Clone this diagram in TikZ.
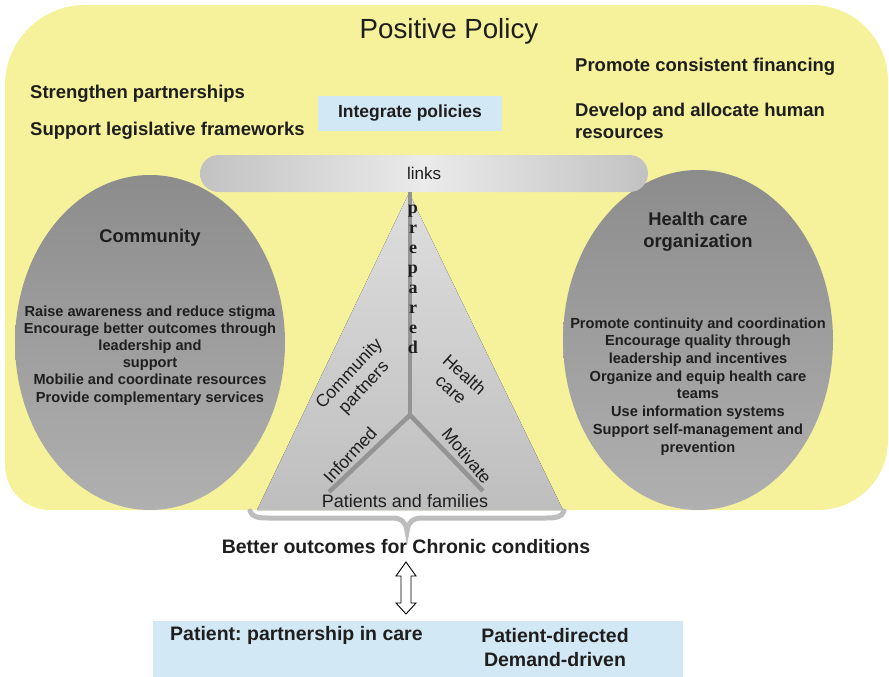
\documentclass[tikz,border=0pt]{standalone}
\usepackage{fontspec}
\setmainfont{Liberation Sans}
\newfontfamily\serifbf{Liberation Serif}
\usetikzlibrary{shapes.geometric}
\definecolor{polyellow}{HTML}{F6F29C}
\definecolor{lightblue}{HTML}{D3E8F5}
\definecolor{ellTop}{HTML}{8C8C8C}
\definecolor{ellBot}{HTML}{B0B0B0}
\definecolor{triTop}{HTML}{DEDEDE}
\definecolor{triBot}{HTML}{BEBEBE}
\definecolor{linkgray}{HTML}{949494}
\definecolor{bracegray}{HTML}{BDBDBD}
\definecolor{txt}{HTML}{1E1E1E}
\frenchspacing
\begin{document}
\begin{tikzpicture}[x=1pt,y=-1pt,
  every node/.style={inner sep=0pt, text=txt},
  hdr/.style={font=\fontsize{18.5}{22}\selectfont\bfseries},
  ttl/.style={font=\fontsize{18.4}{22}\selectfont\bfseries, align=center},
  bodyc/.style={font=\fontsize{14.6}{17.2}\selectfont\bfseries, align=center},
  bodyh/.style={font=\fontsize{14.6}{17.7}\selectfont\bfseries, align=center},
  reg/.style={font=\fontsize{17.5}{20}\selectfont, align=center},
  big/.style={font=\fontsize{19.5}{24}\selectfont\bfseries},
  branch/.style={draw=linkgray, line width=4.5pt}
]
\useasboundingbox (0,0) rectangle (889,677);

% yellow policy region
\fill[polyellow] (5,465) -- (5,85) .. controls (5,41) and (41,5) .. (85,5)
  -- (812,5) .. controls (854,5) and (888,39) .. (888,81)
  -- (888,440) .. controls (888,479) and (857,510) .. (818,510)
  -- (50,510) .. controls (25,510) and (5,490) .. (5,465) -- cycle;

\node (pp) [font=\fontsize{27.7}{32}\selectfont, anchor=base] at (449,39) {Positive Policy};
\node (sp) [hdr, anchor=base west] at (30,99) {Strengthen partnerships};
\node (sl) [hdr, anchor=base west] at (30,135) {Support legislative frameworks};
\node (pc) [hdr, anchor=base west] at (575,72) {Promote consistent financing};
\node (dh) [hdr, anchor=north west, align=left] at (575,102.8) {Develop and allocate human\\resources};
\node (ip) [fill=lightblue, minimum width=184pt, minimum height=35pt,
  font=\fontsize{17.5}{20}\selectfont\bfseries] at (410,113) {Integrate policies};

% ellipses
\node (comm) [ellipse, minimum width=270pt, minimum height=335pt,
  top color=ellTop, bottom color=ellBot] at (150,342.5) {};
\node (hco) [ellipse, minimum width=270pt, minimum height=340pt,
  top color=ellTop, bottom color=ellBot] at (698,340) {};

\node (commt) [ttl, anchor=base] at (150,242) {Community};
\node (commb) [bodyc] at (150,355.3) {Raise awareness and reduce stigma\\Encourage better outcomes through\\leadership and\\support\\Mobilie and coordinate resources\\Provide complementary services};
\node (hcot) [ttl] at (698,231.3) {Health care\\organization};
\node (hcob) [bodyh] at (698,386.3) {Promote continuity and coordination\\Encourage quality through\\leadership and incentives\\Organize and equip health care\\teams\\Use information systems\\Support self-management and\\prevention};

% triangle
\fill[top color=triTop, bottom color=triBot] (409,193) -- (563,510) -- (257,510) -- cycle;

% links pill
\node (links) [minimum width=448pt, minimum height=37pt, rounded corners=18.5pt,
  left color=black!24, right color=black!24, middle color=black!8,
  font=\fontsize{17}{20}\selectfont] at (424,173.5) {links};

% connectors inside triangle
\coordinate (J) at (410,415);
\coordinate (L) at (329,492);
\coordinate (R) at (483,491);
\draw[branch] (J |- links.south) -- (J);
\draw[branch] (L) -- (J) -- (R);

\node (prep) [font=\fontsize{18}{20}\selectfont\serifbf\bfseries, align=center, anchor=north] at (413,204.7)
  {p\\r\\e\\p\\a\\r\\e\\d};

\node (cp) [reg, rotate=47] at (357,381) {Community\\partners};
\node (hc) [reg, rotate=-42] at (458,382) {Health\\care};
\node (inf) [reg, rotate=47] at (350,455) {Informed};
\node (mot) [reg, rotate=-50] at (467,456) {Motivate};
\node (pf) [font=\fontsize{18}{20}\selectfont, anchor=base] at (405,507) {Patients and families};

% brace
\draw[bracegray, line width=5pt, line cap=round]
  (250,511) .. controls (252,517) and (258,518) .. (268,518) -- (392,518)
  .. controls (401,518) and (406,522) .. (407,531)
  .. controls (408,522) and (413,518) .. (422,518) -- (546,518)
  .. controls (556,518) and (562,517) .. (564,511);

\node (bo) [big, anchor=base] at (406,553) {Better outcomes for Chronic conditions};

% bottom box
\node (pbox) [fill=lightblue, minimum width=530pt, minimum height=56pt, anchor=north west] at (153,621) {};
\node (ppc) [big, anchor=base west] at (170,640) {Patient: partnership in care};
\node (pdd) [big, align=center] at (555,648) {Patient-directed\\Demand-driven};

% double arrow between outcome and patient box
\draw[line width=0.9pt, fill=white] (406,562) -- (416,576) -- (411,576) -- (411,603) -- (416,603)
  -- (406,614) -- (396,603) -- (401,603) -- (401,576) -- (396,576) -- cycle;
\end{tikzpicture}
\end{document}
